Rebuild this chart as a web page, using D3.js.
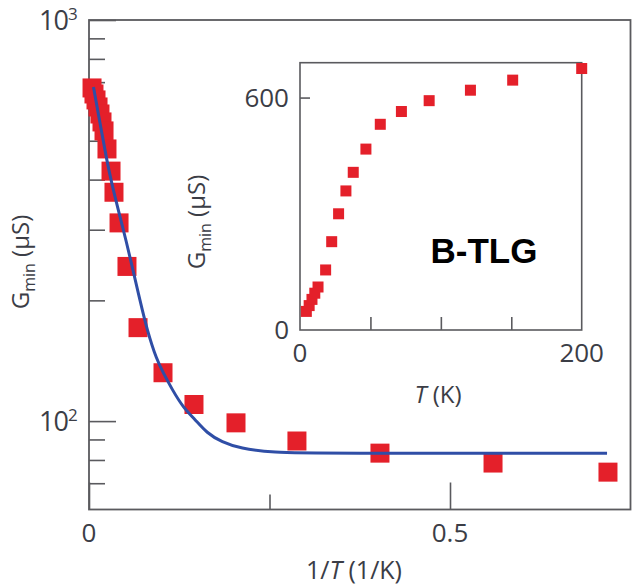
<!DOCTYPE html>
<html>
<head>
<meta charset="utf-8">
<script src="https://cdn.jsdelivr.net/npm/d3@7"></script>
<style>
  html, body { margin: 0; padding: 0; background: #fff; }
  svg { display: block; }
  text { font-family: "Open Sans", "Noto Sans", sans-serif; fill: #3b3d46; }
</style>
</head>
<body>
<svg id="chart" width="633" height="588"></svg>
<script>
// ---------- Data ----------
// Main panel: G_min (µS) versus 1/T (1/K), log y
const mainInvT = [0.0042, 0.0069, 0.0097, 0.0125, 0.0152, 0.018, 0.0208, 0.0249, 0.0305, 0.0346,
                  0.0416, 0.0526, 0.0679, 0.1025, 0.1454, 0.2036, 0.288, 0.403, 0.5596, 0.7188];
const mainG    = [677, 654, 632, 607, 583, 557, 529, 477, 420, 372,
                  312, 243, 171, 132, 110, 99, 89.2, 83.2, 78.6, 74.6];

// Fit curve (blue line)
const fitInvT = [0.0062, 0.0152, 0.0245, 0.0319, 0.0406, 0.0522, 0.0609, 0.0706, 0.0803, 0.0938,
                 0.1029, 0.115, 0.1306, 0.1468, 0.163, 0.1842, 0.2091, 0.2548, 0.32, 0.7175];
const fitG    = [681, 554, 448, 388, 336, 278, 238, 200, 169, 142,
                 132, 120, 108, 101, 93.4, 88.6, 85.5, 83.4, 83.1, 83.1];

// Inset: G_min (µS) versus T (K)
const insetT = [4.5, 6.5, 8.5, 10.5, 12.8, 18.2, 22.5, 27.4, 32.6, 37.8, 46.8, 57, 72, 91.7, 121, 151, 200];
const insetG = [48, 63, 79, 95, 111, 155, 228, 300, 359, 407, 467, 531, 564, 592, 619, 645, 675];

// Tick values / labels
const mainXMajor = [0, 0.5];
const mainXMinor = [0.25];
const mainXLabels = ["0", "0.5"];
const mainYMajor = [100, 1000];
const mainYMinor = [70, 80, 90, 200, 300, 400, 500, 600, 700, 800, 900];
const mainYLabels = [{base: "10", exp: "2"}, {base: "10", exp: "3"}];
const insetXTicks = [50, 100, 150];
const insetXLabels = [0, 200];
const insetYTicks = [600];
const insetYLabels = [0, 600];

// ---------- Layout ----------
const svg = d3.select("#chart");
const M = {left: 89, right: 630.5, top: 20, bottom: 509.5};
const I = {left: 300, right: 581.7, top: 62.7, bottom: 330};

const red = "#e4202a";
const blue = "#2f4ea6";
const axisCol = "#5a5a5e";

const x = d3.scaleLinear().domain([0, 0.75]).range([M.left, M.right]);
const y = d3.scaleLog().domain([60.2, 1000]).range([M.bottom, M.top]);

const xi = d3.scaleLinear().domain([0, 200]).range([I.left, I.right]);
const yi = d3.scaleLinear().domain([0, 690]).range([I.bottom, I.top]);

// ---------- Main axes ----------
function styleAxis(g) {
  g.select(".domain").remove();
  g.selectAll(".tick line").attr("stroke", axisCol).attr("stroke-width", 1.6);
  g.selectAll(".tick text").remove();
}

svg.append("g").attr("transform", `translate(0,${M.bottom})`)
  .call(d3.axisBottom(x).tickValues(mainXMajor).tickSize(-27).tickFormat(""))
  .call(styleAxis);
svg.append("g").attr("transform", `translate(0,${M.bottom})`)
  .call(d3.axisBottom(x).tickValues(mainXMinor).tickSize(-15).tickFormat(""))
  .call(styleAxis);
svg.append("g").attr("transform", `translate(${M.left},0)`)
  .call(d3.axisLeft(y).tickValues(mainYMajor).tickSize(-27).tickFormat(""))
  .call(styleAxis);
svg.append("g").attr("transform", `translate(${M.left},0)`)
  .call(d3.axisLeft(y).tickValues(mainYMinor).tickSize(-16).tickFormat(""))
  .call(styleAxis);

// frame
svg.append("rect")
  .attr("x", M.left).attr("y", M.top)
  .attr("width", M.right - M.left).attr("height", M.bottom - M.top)
  .attr("fill", "none").attr("stroke", axisCol).attr("stroke-width", 1.8);

// x tick labels
svg.selectAll(".mxl").data(mainXMajor).enter().append("text")
  .attr("x", d => x(d)).attr("y", 542)
  .attr("text-anchor", "middle").attr("font-size", 26)
  .text((d, i) => mainXLabels[i]);

// y tick labels with superscripts
const ylab = svg.selectAll(".myl").data(mainYMajor).enter().append("text")
  .attr("x", 39).attr("y", d => y(d) + 10)
  .attr("font-size", 27);
ylab.append("tspan").text((d, i) => mainYLabels[i].base).attr("letter-spacing", -1);
ylab.append("tspan").text((d, i) => mainYLabels[i].exp)
  .attr("font-size", 17).attr("dy", -10);

// axis titles
const xt = svg.append("text").attr("x", 354).attr("y", 579)
  .attr("text-anchor", "middle").attr("font-size", 25);
xt.append("tspan").text("1/");
xt.append("tspan").text("T").attr("font-style", "italic");
xt.append("tspan").text(" (1/K)");

function gminLabel(cx, cy) {
  const t = svg.append("text")
    .attr("transform", `translate(${cx},${cy}) rotate(-90)`)
    .attr("text-anchor", "middle").attr("font-size", 24);
  t.append("tspan").text("G");
  t.append("tspan").text("min").attr("font-size", 16).attr("dy", 6);
  t.append("tspan").text(" (µS)").attr("dy", -6);
}
gminLabel(29, 262);

// ---------- Main data ----------
const mainPts = mainInvT.map((v, i) => ({u: v, g: mainG[i]}));
const s1 = 19;
svg.append("g").selectAll("rect").data(mainPts).enter().append("rect")
  .attr("x", d => x(d.u) - s1 / 2).attr("y", d => y(d.g) - s1 / 2)
  .attr("width", s1).attr("height", s1).attr("fill", red);

const fitPts = fitInvT.map((v, i) => ({u: v, g: fitG[i]}));
svg.append("path").datum(fitPts)
  .attr("d", d3.line().x(d => x(d.u)).y(d => y(d.g)).curve(d3.curveBasis))
  .attr("fill", "none").attr("stroke", blue).attr("stroke-width", 3);

// ---------- Inset ----------
svg.append("g").attr("transform", `translate(0,${I.bottom})`)
  .call(d3.axisBottom(xi).tickValues(insetXTicks).tickSize(-13).tickFormat(""))
  .call(styleAxis);
svg.append("g").attr("transform", `translate(${I.left},0)`)
  .call(d3.axisLeft(yi).tickValues(insetYTicks).tickSize(-10).tickFormat(""))
  .call(styleAxis);
svg.append("rect")
  .attr("x", I.left).attr("y", I.top)
  .attr("width", I.right - I.left).attr("height", I.bottom - I.top)
  .attr("fill", "none").attr("stroke", axisCol).attr("stroke-width", 1.6);

svg.selectAll(".ixl").data(insetXLabels).enter().append("text")
  .attr("x", d => xi(d)).attr("y", 362)
  .attr("text-anchor", "middle").attr("font-size", 26)
  .text(d => d);
svg.selectAll(".iyl").data(insetYLabels).enter().append("text")
  .attr("x", 289).attr("y", d => yi(d) + 9)
  .attr("text-anchor", "end").attr("font-size", 26)
  .text(d => d);

const it = svg.append("text").attr("x", 438).attr("y", 403)
  .attr("text-anchor", "middle").attr("font-size", 24);
it.append("tspan").text("T").attr("font-style", "italic");
it.append("tspan").text(" (K)");

gminLabel(205, 222);

svg.append("text").attr("x", 484).attr("y", 263)
  .attr("text-anchor", "middle").attr("font-size", 35)
  .attr("font-weight", "bold")
  .style("font-family", "'Liberation Sans', Arial, sans-serif")
  .style("fill", "#000")
  .text("B-TLG");

const insetPts = insetT.map((v, i) => ({t: v, g: insetG[i]}));
const s2 = 11;
svg.append("g").selectAll("rect").data(insetPts).enter().append("rect")
  .attr("x", d => xi(d.t) - s2 / 2).attr("y", d => yi(d.g) - s2 / 2)
  .attr("width", s2).attr("height", s2).attr("fill", red);
</script>
</body>
</html>
